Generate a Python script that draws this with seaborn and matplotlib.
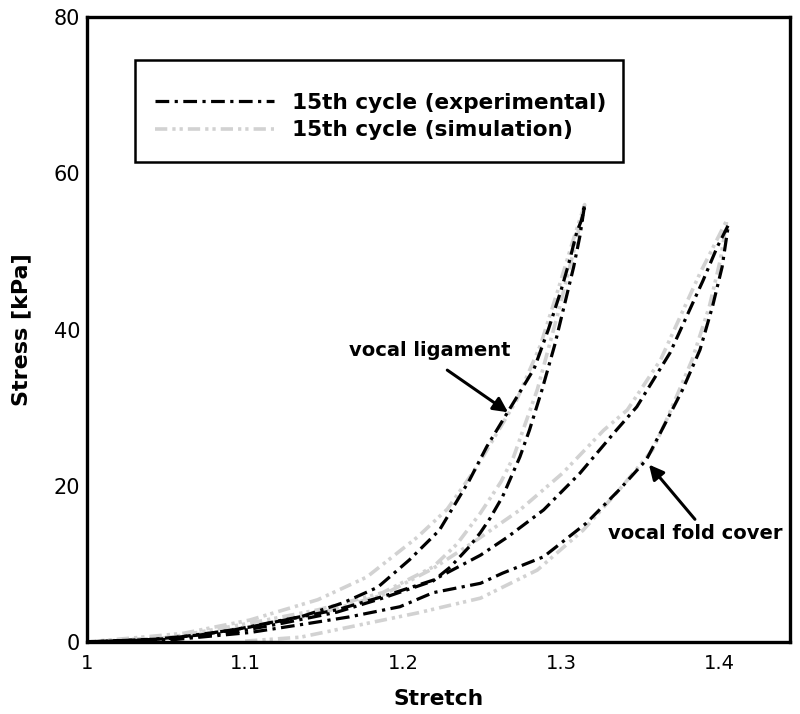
import numpy as np
import pandas as pd
import matplotlib
matplotlib.use("Agg")
import matplotlib.pyplot as plt
import seaborn as sns
from matplotlib.lines import Line2D
from matplotlib.patches import Rectangle

# ---------------- data ----------------
# vocal ligament, experimental
lig_exp_load_x = [1.0, 1.05, 1.092, 1.124, 1.158, 1.187, 1.219, 1.230, 1.242, 1.249, 1.255, 1.263, 1.274, 1.280, 1.288, 1.296, 1.302, 1.308, 1.312, 1.315]
lig_exp_load_y = [0.0, 0.3, 1.2, 2.4, 3.8, 5.6, 7.8, 9.6, 12.2, 14.0, 15.8, 18.6, 23.7, 27.1, 32.3, 38.0, 43.0, 48.0, 52.0, 56.0]
lig_exp_unl_x = [1.315, 1.313, 1.310, 1.305, 1.300, 1.292, 1.283, 1.268, 1.253, 1.242, 1.223, 1.204, 1.184, 1.162, 1.135, 1.103, 1.072, 1.04, 1.0]
lig_exp_unl_y = [56.0, 54.0, 52.5, 48.5, 45.0, 40.0, 35.0, 30.0, 25.0, 20.7, 14.3, 10.5, 7.0, 5.0, 3.2, 1.9, 0.9, 0.3, 0.0]
# vocal ligament, simulation
lig_sim_load_x = [1.0, 1.05, 1.103, 1.146, 1.187, 1.219, 1.234, 1.249, 1.262, 1.270, 1.285, 1.298, 1.308, 1.315]
lig_sim_load_y = [0.0, 0.5, 2.4, 4.1, 6.3, 9.6, 12.5, 16.5, 20.5, 23.7, 32.3, 42.0, 50.0, 56.0]
lig_sim_unl_x = [1.315, 1.307, 1.298, 1.287, 1.272, 1.247, 1.228, 1.209, 1.177, 1.146, 1.103, 1.061, 1.04, 1.0]
lig_sim_unl_y = [56.0, 51.0, 45.0, 38.0, 31.0, 22.5, 17.0, 13.4, 8.3, 5.4, 2.8, 1.1, 0.7, 0.0]
# vocal fold cover, experimental
cov_exp_load_x = [1.0, 1.05, 1.103, 1.135, 1.166, 1.198, 1.219, 1.249, 1.263, 1.289, 1.316, 1.337, 1.354, 1.363, 1.377, 1.388, 1.396, 1.402, 1.406]
cov_exp_load_y = [0.0, 0.2, 1.2, 2.2, 3.2, 4.5, 6.3, 7.5, 8.8, 10.9, 15.2, 19.5, 23.3, 26.8, 32.3, 37.4, 43.0, 48.0, 53.4]
cov_exp_unl_x = [1.406, 1.399, 1.390, 1.369, 1.348, 1.335, 1.312, 1.289, 1.266, 1.249, 1.219, 1.187, 1.158, 1.124, 1.092, 1.05, 1.0]
cov_exp_unl_y = [53.4, 50.6, 46.3, 37.0, 30.1, 27.1, 21.6, 16.9, 13.4, 11.1, 7.9, 5.8, 4.1, 2.8, 1.5, 0.4, 0.0]
# vocal fold cover, simulation
cov_sim_load_x = [1.10, 1.135, 1.166, 1.209, 1.249, 1.285, 1.314, 1.337, 1.358, 1.367, 1.383, 1.394, 1.401, 1.405]
cov_sim_load_y = [0.1, 0.6, 1.9, 3.7, 5.6, 9.2, 14.3, 19.5, 24.6, 28.5, 36.1, 43.0, 49.0, 54.0]
cov_sim_unl_x = [1.405, 1.388, 1.363, 1.342, 1.327, 1.301, 1.274, 1.247, 1.219, 1.187, 1.146, 1.103, 1.061, 1.0]
cov_sim_unl_y = [54.0, 47.2, 36.1, 29.7, 27.1, 21.6, 16.9, 13.1, 9.4, 6.0, 3.6, 1.9, 0.7, 0.0]

series_labels = ["15th cycle (experimental)", "15th cycle (simulation)"]
x_ticks = [1.0, 1.1, 1.2, 1.3, 1.4]
x_tick_labels = ["1", "1.1", "1.2", "1.3", "1.4"]
y_ticks = [0, 20, 40, 60, 80]
y_tick_labels = ["0", "20", "40", "60", "80"]


def loop_frame(name, lx, ly, ux, uy):
    return pd.DataFrame({"stretch": list(lx) + list(ux),
                         "stress": list(ly) + list(uy),
                         "loop": name})


exp_df = pd.concat([loop_frame("lig", lig_exp_load_x, lig_exp_load_y, lig_exp_unl_x, lig_exp_unl_y),
                    loop_frame("cov", cov_exp_load_x, cov_exp_load_y, cov_exp_unl_x, cov_exp_unl_y)],
                   ignore_index=True)
sim_df = pd.concat([loop_frame("lig", lig_sim_load_x, lig_sim_load_y, lig_sim_unl_x, lig_sim_unl_y),
                    loop_frame("cov", cov_sim_load_x, cov_sim_load_y, cov_sim_unl_x, cov_sim_unl_y)],
                   ignore_index=True)

# ---------------- style ----------------
sns.set_style("white")
plt.rcParams["font.family"] = ["DejaVu Sans"]
plt.rcParams["text.color"] = "black"
plt.rcParams["axes.labelcolor"] = "black"
plt.rcParams["xtick.color"] = "black"
plt.rcParams["ytick.color"] = "black"

GRAY = "#d2d2d2"
EXP_LS = (0, (4.3, 1.7, 1.0, 1.7))
SIM_LS = (0, (3.4, 1.4, 0.9, 1.1, 0.9, 1.4))
EXP_LW = 2.3
SIM_LW = 2.6

fig = plt.figure(figsize=(8.0, 7.14), dpi=100)
ax = fig.add_axes([0.109, 0.101, 0.8785, 0.875])

sns.lineplot(data=sim_df, x="stretch", y="stress", units="loop", estimator=None,
             sort=False, color=GRAY, linewidth=SIM_LW, linestyle=SIM_LS, ax=ax, legend=False)
sns.lineplot(data=exp_df, x="stretch", y="stress", units="loop", estimator=None,
             sort=False, color="black", linewidth=EXP_LW, linestyle=EXP_LS, ax=ax, legend=False)
for ln in ax.lines:
    ln.set_solid_joinstyle("round")
    ln.set_dash_joinstyle("round")

ax.set_xlim(1.0, 1.445)
ax.set_ylim(0, 80)
ax.set_xticks(x_ticks)
ax.set_xticklabels(x_tick_labels)
ax.set_yticks(y_ticks)
ax.set_yticklabels(y_tick_labels)
ax.set_xticks(np.arange(1.02, 1.445, 0.02), minor=True)
ax.set_yticks(np.arange(5, 80, 5), minor=True)
ax.tick_params(axis="both", which="major", direction="in", length=7, width=1.8,
               colors="black", top=False, right=False)
ax.tick_params(axis="both", which="minor", direction="in", length=3.5, width=0.9,
               top=False, right=False)
ax.tick_params(axis="x", which="major", pad=9, labelsize=14)
ax.tick_params(axis="y", which="major", pad=5, labelsize=15)
for s in ax.spines.values():
    s.set_linewidth(2.4)
    s.set_color("black")

ax.set_xlabel("Stretch", labelpad=11, fontsize=15.7, fontweight="bold", color="black")
ax.set_ylabel("Stress [kPa]", labelpad=16, fontsize=16, fontweight="bold", color="black")

# annotations
ax.annotate("", xy=(1.2665, 29.4), xytext=(1.228, 34.8),
            arrowprops=dict(arrowstyle="-|>", color="black", lw=2.2, mutation_scale=22,
                            shrinkA=0, shrinkB=0))
ax.text(1.217, 37.3, "vocal ligament", ha="center", va="center", fontsize=14,
        fontweight="bold", color="black")
ax.annotate("", xy=(1.3557, 22.7), xytext=(1.3848, 15.7),
            arrowprops=dict(arrowstyle="-|>", color="black", lw=2.2, mutation_scale=22,
                            shrinkA=0, shrinkB=0))
ax.text(1.385, 13.9, "vocal fold cover", ha="center", va="center", fontsize=14,
        fontweight="bold", color="black")

# legend
handles = [Line2D([0], [0], color="black", lw=EXP_LW, linestyle=EXP_LS),
           Line2D([0], [0], color=GRAY, lw=SIM_LW, linestyle=SIM_LS)]
leg = ax.legend(handles, series_labels, loc="center left", bbox_to_anchor=(0.0967, 0.8408),
                frameon=False, borderpad=0.0, borderaxespad=0.0,
                handlelength=5.5, handletextpad=0.83, labelspacing=0.35,
                prop=dict(size=15.6, weight="bold"))
for t in leg.get_texts():
    t.set_color("black")
ax.add_patch(Rectangle((0.068, 0.768), 0.694, 0.163, transform=ax.transAxes,
                       fill=False, edgecolor="black", lw=1.8, zorder=5))

fig.savefig("out.png", dpi=100)
